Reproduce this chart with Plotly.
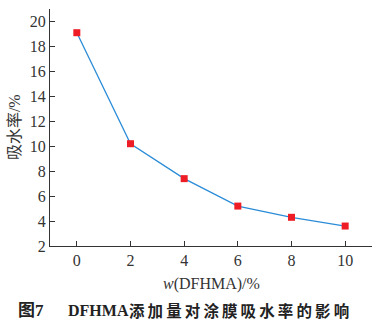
import plotly.graph_objects as go

x_vals = [0, 2, 4, 6, 8, 10]
y_vals = [19.1, 10.2, 7.4, 5.2, 4.3, 3.6]
x_ticks = [0, 2, 4, 6, 8, 10]
y_ticks = [2, 4, 6, 8, 10, 12, 14, 16, 18, 20]

serif = "Liberation Serif, Times New Roman, serif"
cjk = "Liberation Serif, Noto Sans CJK SC, serif"

fig = go.Figure()
fig.add_trace(go.Scatter(
    x=x_vals, y=y_vals, mode="lines+markers",
    line=dict(color="#2b8cd8", width=1.3),
    marker=dict(symbol="square", size=7, color="#ee1c25"),
))

fig.update_layout(
    width=378, height=325,
    margin=dict(l=50, r=6, t=9, b=79),
    plot_bgcolor="white", paper_bgcolor="white",
    showlegend=False,
    font=dict(family=serif, size=15, color="#333333"),
    xaxis=dict(range=[-1, 11], tickvals=x_ticks, ticks="inside", ticklen=5,
               tickcolor="#333333", showline=True, linecolor="#333333", linewidth=1,
               showgrid=False, zeroline=False, tickfont=dict(family=serif, size=16)),
    yaxis=dict(range=[2, 21], tickvals=y_ticks, ticks="inside", ticklen=5,
               tickcolor="#333333", showline=True, linecolor="#333333", linewidth=1,
               showgrid=False, zeroline=False, tickfont=dict(family=serif, size=16)),
)

sp = "\u2009"
cap_cn = sp.join("添加量对涂膜吸水率的影响")

fig.add_annotation(text="<i>w</i>(DFHMA)/%", xref="paper", yref="paper",
                   x=0.5, y=-0.115, xanchor="center", yanchor="top", showarrow=False,
                   font=dict(family=serif, size=16, color="#333333"))
fig.add_annotation(text="吸水率/%", xref="paper", yref="paper",
                   x=-0.11, y=0.5, xanchor="center", yanchor="middle", showarrow=False,
                   textangle=-90, font=dict(family=cjk, size=16, color="#333333"))
fig.add_annotation(text="<b>图7</b>", xref="paper", yref="paper",
                   x=-0.105, y=-0.225, xanchor="left", yanchor="top", showarrow=False,
                   font=dict(family=cjk, size=17, color="#222222"))
fig.add_annotation(text="<b>DFHMA</b>", xref="paper", yref="paper",
                   x=0.05, y=-0.226, xanchor="left", yanchor="top", showarrow=False,
                   font=dict(family=serif, size=16, color="#222222"))
fig.add_annotation(text="<b>" + cap_cn + "</b>", xref="paper", yref="paper",
                   x=0.24, y=-0.226, xanchor="left", yanchor="top", showarrow=False,
                   font=dict(family=cjk, size=15.5, color="#222222"))

fig.write_html("out.html")
